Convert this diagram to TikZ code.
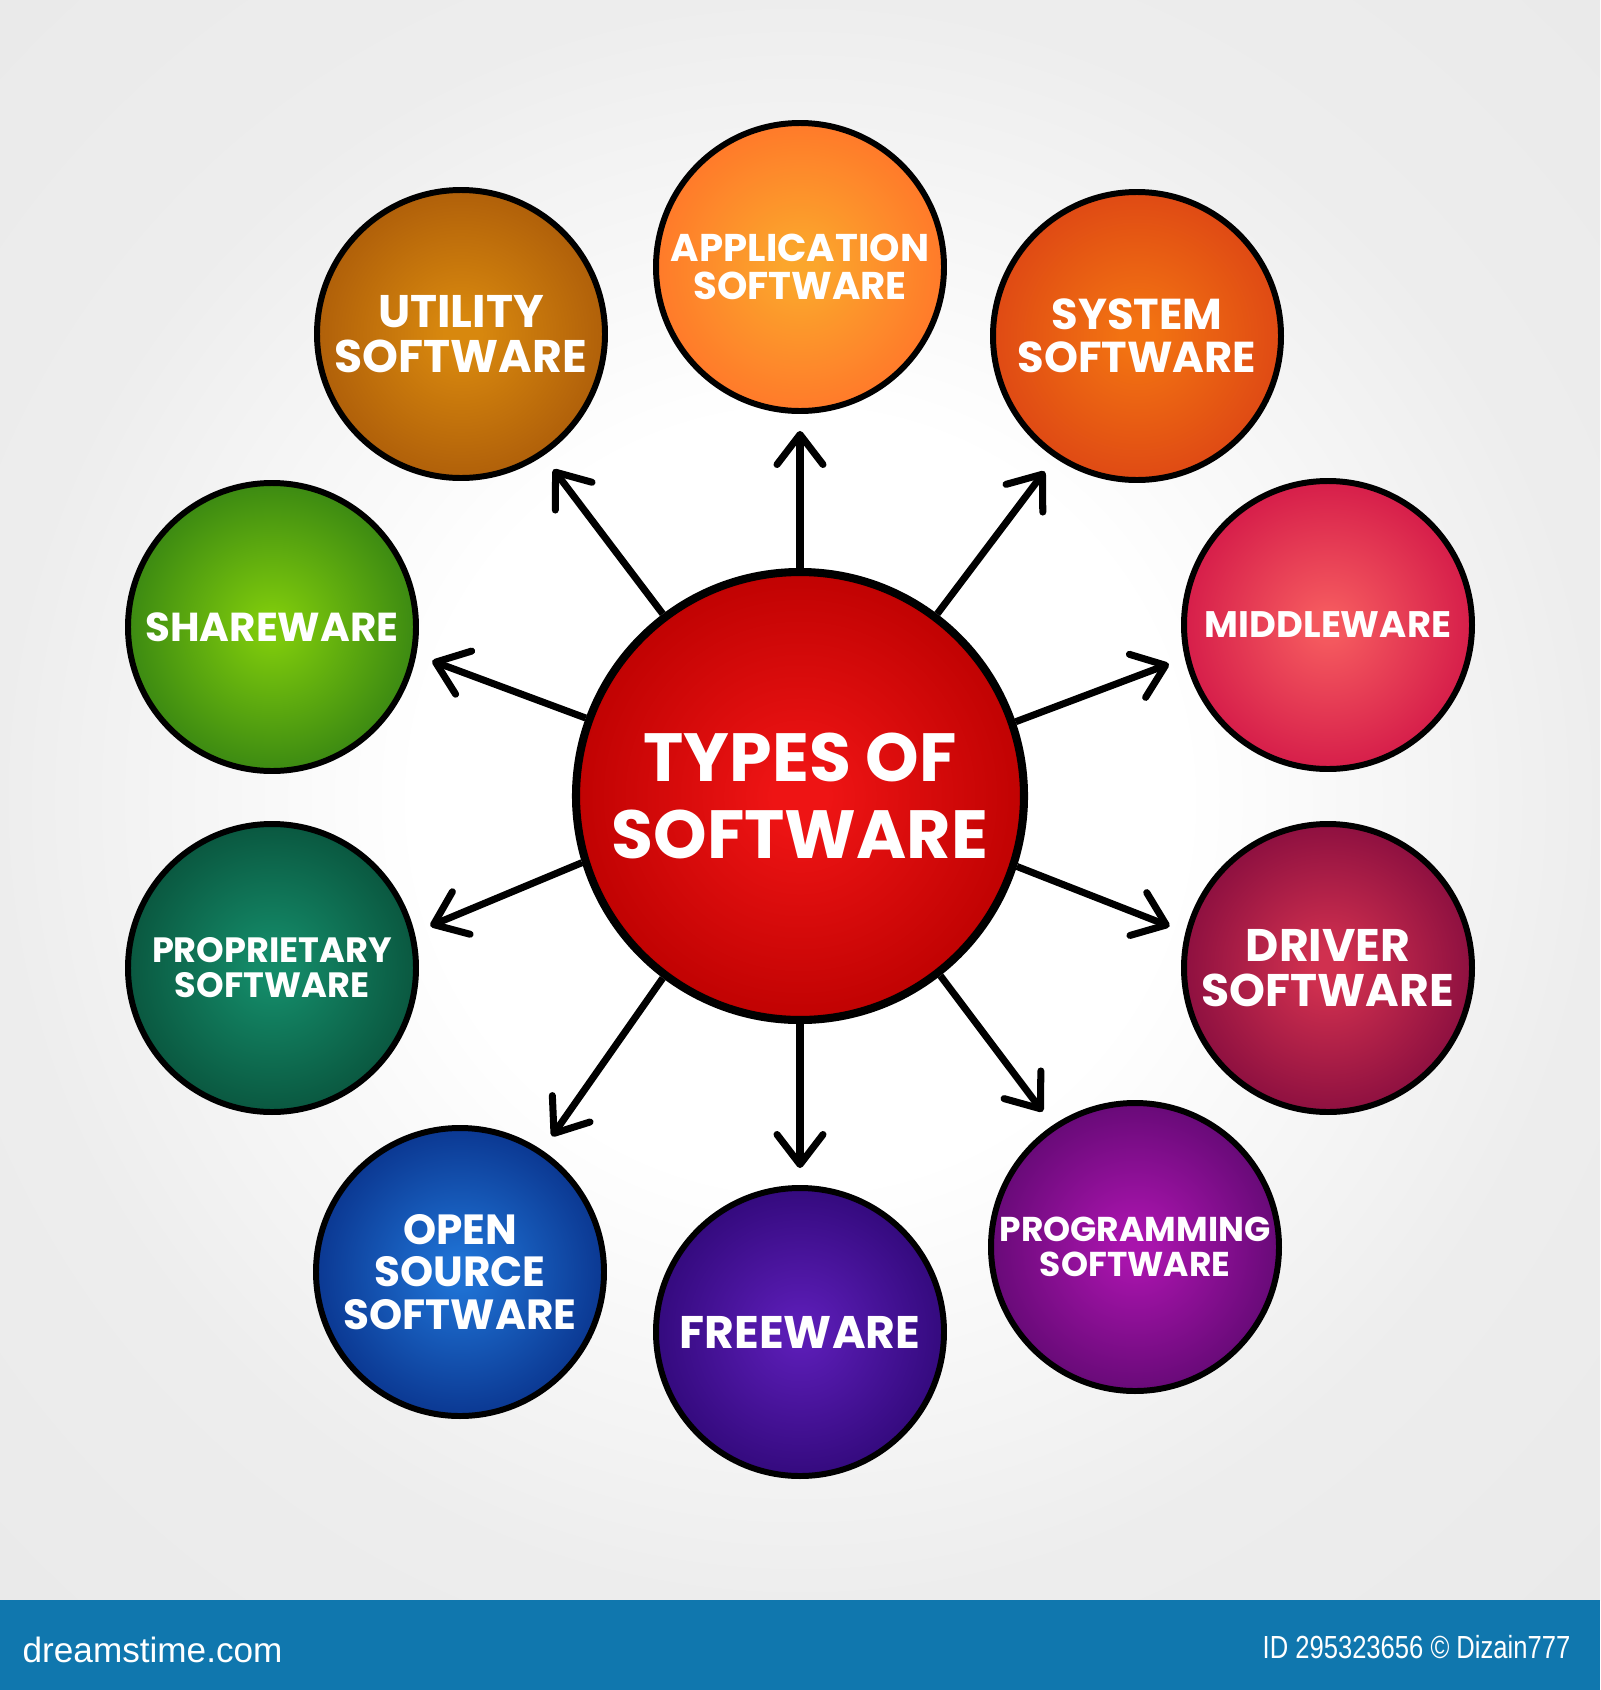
\documentclass[tikz,border=0pt]{standalone}
\usepackage{fontspec}
\newfontfamily\labfont{Poppins}
\newfontfamily\barfont[FakeStretch=0.8]{Liberation Sans}
\usetikzlibrary{arrows.meta}
\definecolor{ballin}{HTML}{FFFFFF}
\definecolor{ballout}{HTML}{000000}
\definecolor{barblue}{HTML}{1077AE}
\pgfdeclareradialshading[ballin,ballout]{bubshade}{\pgfpoint{0bp}{0bp}}{color(0bp)=(ballin); color(3bp)=(ballin); color(25bp)=(ballout); color(50bp)=(ballout)}
\pgfdeclareradialshading{bgshade}{\pgfpoint{0bp}{0bp}}{color(0bp)=(white); color(12bp)=(white); color(25bp)=(white!93!black); color(50bp)=(white!90!black)}
\tikzset{
  bub/.style n args={3}{circle, draw=black, line width=1.7pt, minimum size=28.8mm, inner sep=0pt,
    align=center, text=white, font=\labfont\bfseries\fontsize{#3}{#3}\selectfont,
    /utils/exec={\definecolor{ballin}{HTML}{#1}\definecolor{ballout}{HTML}{#2}},
    shade, shading=bubshade},
  arr/.style={line width=2pt, -{Straight Barb[length=3mm,width=4.6mm,round]}, shorten >=1.7mm},
  bartext/.style={text=white, inner sep=0pt}
}
\begin{document}
\begin{tikzpicture}[x=0.1mm, y=-0.1mm]
\useasboundingbox (0,0) rectangle (1600,1690);
\shade[shading=bgshade] (0,0) rectangle (1600,1600);
\fill[barblue] (0,1600) rectangle (1600,1690);

\node[bub={EE1414}{C00202}{19.4}, font=\labfont\bfseries\fontsize{19.4}{21.8}\selectfont, minimum size=44.8mm, line width=2.3pt] (c) at (800,796) {TYPES OF\\SOFTWARE};

\node[bub={FBA62C}{FF7A2A}{11}] (app) at (800,267) {APPLICATION\\SOFTWARE};
\node[bub={F27212}{DF4A14}{12.3}] (sys) at (1137,336) {SYSTEM\\SOFTWARE};
\node[bub={F4585E}{D61E4A}{10.5}] (mid) at (1328,625) {MIDDLEWARE};
\node[bub={D0304F}{8E1040}{13}] (drv) at (1328,968) {DRIVER\\SOFTWARE};
\node[bub={A814AC}{680A78}{9.8}] (prg) at (1135,1247) {PROGRAMMING\\SOFTWARE};
\node[bub={5A1CB4}{340A7E}{13}] (fre) at (800,1332) {FREEWARE};
\node[bub={1E70D2}{0B3892}{12}] (ops) at (460,1272) {OPEN\\SOURCE\\SOFTWARE};
\node[bub={148A68}{0A5840}{10}] (prp) at (272,968) {PROPRIETARY\\SOFTWARE};
\node[bub={7CC80C}{3C8A12}{11.5}] (shr) at (272,627) {SHAREWARE};
\node[bub={D8880E}{B0600A}{13}] (utl) at (461,334) {UTILITY\\SOFTWARE};

\draw[arr] (c.90) -- (app.270);
\draw[arr] (c.127.7) -- (utl.-56.3);
\draw[arr] (c.53.1) -- (sys.-124.9);
\draw[arr] (c.19.1) -- (mid.193.5);
\draw[arr] (c.-18.5) -- (drv.166.1);
\draw[arr] (c.-52.6) -- (prg.124.8);
\draw[arr] (c.270) -- (fre.90);
\draw[arr] (c.233.2) -- (ops.56.8);
\draw[arr] (c.197.6) -- (prp.14.8);
\draw[arr] (c.160) -- (shr.-11.3);

\node[bartext, anchor=west, font=\fontspec{Liberation Sans}\fontsize{10}{10}\selectfont] (logo) at (22,1650) {dreamstime.com};
\node[bartext, anchor=east, font=\barfont\fontsize{9.1}{9.1}\selectfont] (credit) at (1571,1647) {ID 295323656 © Dizain777};
\end{tikzpicture}
\end{document}
